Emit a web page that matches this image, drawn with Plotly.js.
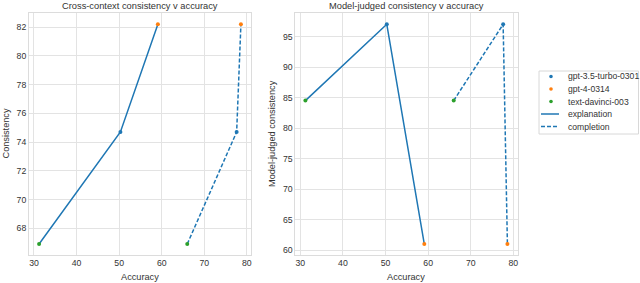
<!DOCTYPE html>
<html><head><meta charset="utf-8">
<script src="https://cdn.plot.ly/plotly-3.0.1.min.js"></script>
<style>html,body{margin:0;padding:0;background:#fff}#chart{width:640px;height:283px}</style>
</head><body><div id="chart"></div>
<script>
// Models in line order
const models = ["text-davinci-003", "gpt-3.5-turbo-0301", "gpt-4-0314"];
const modelColors = ["#2ca02c", "#1f77b4", "#ff7f0e"];
const legendModels = ["gpt-3.5-turbo-0301", "gpt-4-0314", "text-davinci-003"];
const legendStyles = ["explanation", "completion"];
// Accuracy per model
const accExplanation = [31.2, 50.3, 59.1];
const accCompletion = [66.0, 77.6, 78.6];
// Cross-context consistency
const crossConsistency = [66.9, 74.7, 82.2];
// Model-judged consistency
const judgedConsistency = [84.5, 97.0, 61.0];
// Tick values
const xTicks = [30, 40, 50, 60, 70, 80];
const yTicksLeft = [68, 70, 72, 74, 76, 78, 80, 82];
const yTicksRight = [60, 65, 70, 75, 80, 85, 90, 95];

const lineColor = "#1f77b4";
const textColor = "#333333";
const gridColor = "#e3e3e3";
const FONT = "Liberation Sans, Arial, sans-serif";
const W = 640, H = 283;
const DASH = "4px,2px";

const traces = [];
function addPanel(xa, ya, yvals) {
  traces.push({x: accExplanation, y: yvals, xaxis: xa, yaxis: ya, mode: "lines",
    line: {color: lineColor, width: 1.5}, showlegend: false, hoverinfo: "skip"});
  traces.push({x: accCompletion, y: yvals, xaxis: xa, yaxis: ya, mode: "lines",
    line: {color: lineColor, width: 1.5, dash: DASH}, showlegend: false, hoverinfo: "skip"});
  models.forEach((m, i) => {
    traces.push({x: [accExplanation[i], accCompletion[i]], y: [yvals[i], yvals[i]], xaxis: xa, yaxis: ya,
      mode: "markers", marker: {color: modelColors[i], size: 4}, name: m, showlegend: false});
  });
}
addPanel("x", "y", crossConsistency);
addPanel("x2", "y2", judgedConsistency);

const px = v => v / W, py = v => 1 - v / H;
const frameTop = 13.3, frameBot = 255;
const xr = [28.83, 80.97];
const axBase = {
  showgrid: true, gridcolor: gridColor, gridwidth: 1, zeroline: false,
  showline: true, mirror: true, linecolor: "#dcdcdc", linewidth: 1,
  ticks: "", automargin: false, tickfont: {family: FONT, size: 8.7, color: textColor}
};

const annotations = [];
const shapes = [];
function ann(text, x, y, opts) {
  annotations.push(Object.assign({text: text, xref: "paper", yref: "paper", x: px(x), y: py(y),
    xanchor: "center", yanchor: "middle", showarrow: false,
    font: {family: FONT, size: 9.3, color: textColor}}, opts || {}));
}
ann("Cross-context consistency v accuracy", 140, 5.5);
ann("Model-judged consistency v accuracy", 406, 5.5);
ann("Accuracy", 140, 276.5, {font: {family: FONT, size: 9.2, color: textColor}});
ann("Accuracy", 406, 276.5, {font: {family: FONT, size: 9.2, color: textColor}});
ann("Consistency", 5.5, 134, {textangle: -90, font: {family: FONT, size: 9.2, color: textColor}});
ann("Model-judged consistency", 272, 134, {textangle: -90, font: {family: FONT, size: 9.2, color: textColor}});

// Custom legend (box, glyphs, labels)
const lgX0 = 539, lgX1 = 638.5, lgY0 = 71, lgY1 = 134;
const rowY = [76.5, 89, 101.5, 114, 126.5];
shapes.push({type: "rect", xref: "paper", yref: "paper", x0: px(lgX0), x1: px(lgX1), y0: py(lgY1), y1: py(lgY0),
  line: {color: "#d8d8d8", width: 1}, fillcolor: "#ffffff", layer: "above"});
legendModels.forEach((m, i) => {
  const c = modelColors[models.indexOf(m)];
  const r = 1.8, cx = 551, cy = rowY[i];
  shapes.push({type: "circle", xref: "paper", yref: "paper", x0: px(cx - r), x1: px(cx + r),
    y0: py(cy + r), y1: py(cy - r), fillcolor: c, line: {width: 0}, layer: "above"});
  ann(m, 566, cy, {xanchor: "left", font: {family: FONT, size: 8.6, color: textColor}});
});
legendStyles.forEach((s, j) => {
  const cy = rowY[3 + j];
  shapes.push({type: "line", xref: "paper", yref: "paper", x0: px(541), x1: px(559), y0: py(cy), y1: py(cy),
    line: {color: lineColor, width: 1.5, dash: j === 0 ? "solid" : DASH}, layer: "above"});
  ann(s, 566, cy, {xanchor: "left", font: {family: FONT, size: 8.6, color: textColor}});
});

const layout = {
  width: W, height: H, margin: {l: 0, r: 0, t: 0, b: 0},
  paper_bgcolor: "#fff", plot_bgcolor: "#fff",
  font: {family: FONT, color: textColor},
  showlegend: false,
  xaxis: Object.assign({}, axBase, {domain: [px(29), px(251)], range: xr, tickvals: xTicks, anchor: "y"}),
  yaxis: Object.assign({}, axBase, {domain: [py(frameBot), py(frameTop)], range: [66.135, 82.965],
    tickvals: yTicksLeft, anchor: "x"}),
  xaxis2: Object.assign({}, axBase, {domain: [px(295.3), px(517.5)], range: xr, tickvals: xTicks, anchor: "y2"}),
  yaxis2: Object.assign({}, axBase, {domain: [py(frameBot), py(frameTop)], range: [59.2, 98.8],
    tickvals: yTicksRight, anchor: "x2"}),
  annotations: annotations,
  shapes: shapes
};
Plotly.newPlot("chart", traces, layout, {displayModeBar: false, staticPlot: true});
</script></body></html>
